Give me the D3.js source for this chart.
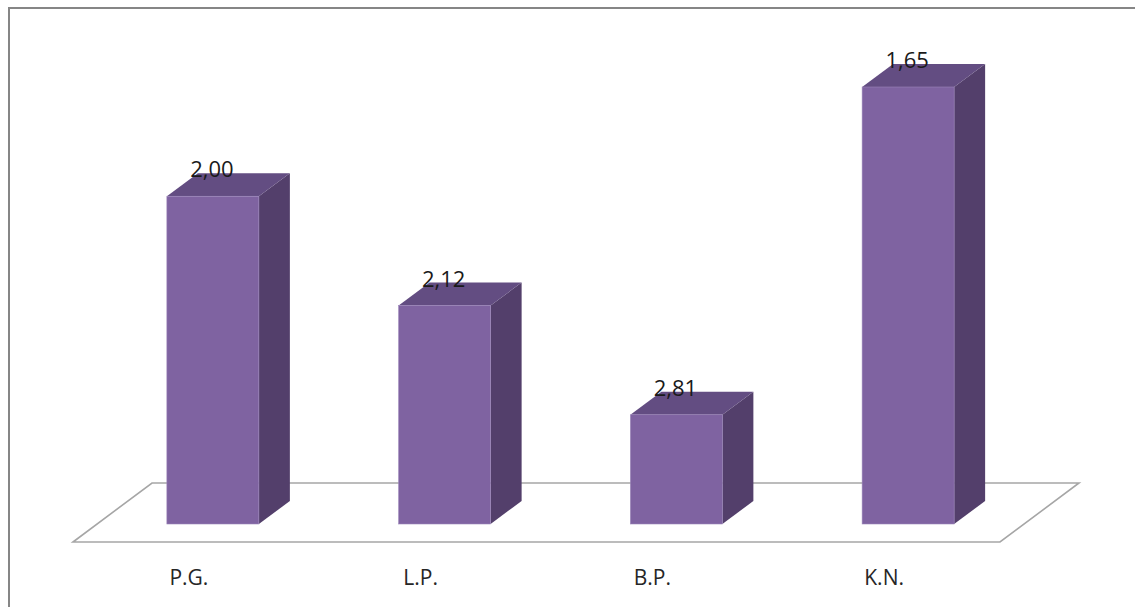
<!DOCTYPE html>
<html>
<head>
<meta charset="utf-8">
<script src="https://cdn.jsdelivr.net/npm/d3@7"></script>
<style>
  html, body { margin: 0; padding: 0; background: #fff; }
  svg { display: block; }
</style>
</head>
<body>
<svg id="chart" width="1135" height="607"></svg>
<script>
// Data
const categories = ["P.G.", "L.P.", "B.P.", "K.N."];
const barValues = [3, 2, 1, 4];             // bar heights (rank)
const dataLabels = ["2,00", "2,12", "2,81", "1,65"];
const yDomain = [0, 4];

const svg = d3.select("#chart");
const W = 1135, H = 607;

// chart frame (border on top/left)
svg.append("rect").attr("x", 0).attr("y", 0).attr("width", W).attr("height", H).attr("fill", "#fff");
svg.append("line").attr("x1", 9).attr("x2", W).attr("y1", 8).attr("y2", 8)
  .attr("stroke", "#868686").attr("stroke-width", 2);
svg.append("line").attr("x1", 9).attr("x2", 9).attr("y1", 7).attr("y2", H)
  .attr("stroke", "#868686").attr("stroke-width", 2);

// geometry
const floorLeft = 73, floorRight = 1000, floorFrontY = 542;
const floorDepth = [79, -59];
const frontOff = [24, -18];      // bar front plane relative to floor front
const barDepth = [31, -23];
const barWidth = 92;

const x = d3.scaleBand().domain(categories).range([floorLeft, floorRight]);
const y = d3.scaleLinear().domain(yDomain).range([floorFrontY + frontOff[1], 87]);

// floor
const floorPts = [
  [floorLeft, floorFrontY],
  [floorLeft + floorDepth[0], floorFrontY + floorDepth[1]],
  [floorRight + floorDepth[0], floorFrontY + floorDepth[1]],
  [floorRight, floorFrontY]
];
svg.append("path")
  .attr("d", d3.line()(floorPts) + "Z")
  .attr("fill", "#fff").attr("stroke", "#a6a6a6").attr("stroke-width", 1.6);

const data = categories.map((c, i) => ({ c, v: barValues[i], label: dataLabels[i] }));

const g = svg.append("g");
const bars = g.selectAll("g.bar").data(data).join("g").attr("class", "bar");

function fx(d) { return x(d.c) + x.bandwidth() / 2 + frontOff[0] - barWidth / 2; }

// side face
bars.append("path").attr("d", d => {
  const x1 = fx(d) + barWidth, yt = y(d.v), yb = y(0);
  return d3.line()([[x1, yt], [x1 + barDepth[0], yt + barDepth[1]],
    [x1 + barDepth[0], yb + barDepth[1]], [x1, yb]]) + "Z";
}).attr("fill", "#533F6B");

// top face
bars.append("path").attr("d", d => {
  const x0 = fx(d), x1 = x0 + barWidth, yt = y(d.v);
  return d3.line()([[x0, yt], [x0 + barDepth[0], yt + barDepth[1]],
    [x1 + barDepth[0], yt + barDepth[1]], [x1, yt]]) + "Z";
}).attr("fill", "#634D82");

// front face
bars.append("rect")
  .attr("x", d => fx(d))
  .attr("y", d => y(d.v))
  .attr("width", barWidth)
  .attr("height", d => y(0) - y(d.v))
  .attr("fill", "#7F63A1")
  .attr("stroke", "#9C86BA").attr("stroke-width", 0.6);

// data labels
bars.append("text")
  .attr("x", d => fx(d) + barWidth / 2 - 1)
  .attr("y", d => y(d.v) - 19)
  .attr("text-anchor", "middle")
  .attr("font-family", "'Open Sans', 'Noto Sans', sans-serif")
  .attr("font-size", 22)
  .attr("fill", "#1a1a1a")
  .text(d => d.label);

// category labels
svg.append("g").selectAll("text").data(categories).join("text")
  .attr("x", d => x(d) + x.bandwidth() / 2)
  .attr("y", 585)
  .attr("text-anchor", "middle")
  .attr("font-family", "'Open Sans', 'Noto Sans', sans-serif")
  .attr("font-size", 21)
  .attr("fill", "#262626")
  .text(d => d);
</script>
</body>
</html>
